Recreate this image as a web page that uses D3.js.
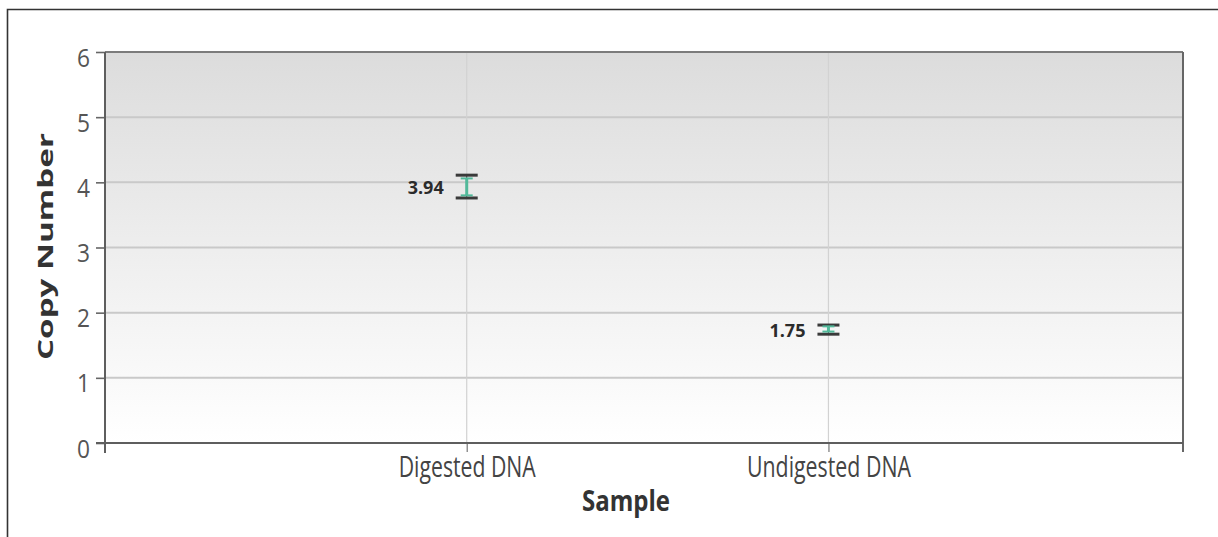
<!DOCTYPE html>
<html>
<head>
<meta charset="utf-8">
<script src="https://cdn.jsdelivr.net/npm/d3@7"></script>
<style>
  html, body { margin: 0; padding: 0; background: #fff; }
  svg { display: block; }
</style>
</head>
<body>
<svg id="chart" width="1218" height="537"></svg>
<script>
// Copy number per sample, with min/max range (dark caps) and confidence interval (teal)
const categories = ["Digested DNA", "Undigested DNA"];
const copyNumber = [3.94, 1.75];
const rangeLow  = [3.76, 1.67];
const rangeHigh = [4.11, 1.81];
const ciLow     = [3.80, 1.71];
const ciHigh    = [4.06, 1.79];
const yTicks = [0, 1, 2, 3, 4, 5, 6];
const xTitle = "Sample";
const yTitle = "Copy Number";

const svg = d3.select("#chart");
const W = 1218, H = 537;
const plot = { left: 105, right: 1183, top: 52, bottom: 443 };

const FONT = "'Open Sans', 'Noto Sans', 'DejaVu Sans', sans-serif";

const x = d3.scalePoint().domain(categories).range([plot.left, plot.right]).padding(0.99).align(0.505);
const y = d3.scaleLinear().domain([0, 6]).range([plot.bottom, plot.top]);

// outer frame
svg.append("path")
  .attr("d", `M7.5,${H} V9.5 H${W}`)
  .attr("fill", "none").attr("stroke", "#333").attr("stroke-width", 1.6);

// plot background gradient
const defs = svg.append("defs");
const grad = defs.append("linearGradient").attr("id", "bg")
  .attr("x1", 0).attr("y1", 0).attr("x2", 0).attr("y2", 1);
grad.append("stop").attr("offset", "0%").attr("stop-color", "#dcdcdc");
grad.append("stop").attr("offset", "45%").attr("stop-color", "#ececec");
grad.append("stop").attr("offset", "100%").attr("stop-color", "#ffffff");

svg.append("rect")
  .attr("x", plot.left).attr("y", plot.top)
  .attr("width", plot.right - plot.left).attr("height", plot.bottom - plot.top)
  .attr("fill", "url(#bg)");

// horizontal gridlines
svg.append("g").selectAll("line")
  .data(yTicks.filter(t => t > 0 && t < 6))
  .join("line")
  .attr("x1", plot.left).attr("x2", plot.right)
  .attr("y1", d => y(d)).attr("y2", d => y(d))
  .attr("stroke", "#c9c9c9").attr("stroke-width", 2);

// vertical gridlines at each sample
svg.append("g").selectAll("line")
  .data(categories)
  .join("line")
  .attr("x1", d => x(d)).attr("x2", d => x(d))
  .attr("y1", plot.top).attr("y2", plot.bottom)
  .attr("stroke", "#d2d2d2").attr("stroke-width", 1.2);

// plot border: top and right
svg.append("line")
  .attr("x1", plot.left).attr("x2", plot.right)
  .attr("y1", y(6)).attr("y2", y(6))
  .attr("stroke", "#7c7c7c").attr("stroke-width", 2.2);
svg.append("line")
  .attr("x1", plot.right).attr("x2", plot.right)
  .attr("y1", y(6)).attr("y2", y(0) + 9)
  .attr("stroke", "#666").attr("stroke-width", 2);

// y axis
const yAxis = svg.append("g")
  .attr("transform", `translate(${plot.left},0)`)
  .call(d3.axisLeft(y).tickValues(yTicks).tickSize(9).tickPadding(6).tickFormat(d3.format("d")));
yAxis.select(".domain").remove();
yAxis.selectAll(".tick line").attr("stroke", "#666").attr("stroke-width", 1.6);
yAxis.selectAll(".tick text")
  .attr("dy", "14px")
  .attr("fill", "#555")
  .style("font-family", FONT)
  .style("font-size", "26px")
  .attr("textLength", 13)
  .attr("lengthAdjust", "spacingAndGlyphs");
svg.append("line")
  .attr("x1", plot.left).attr("x2", plot.left)
  .attr("y1", y(6)).attr("y2", y(0) + 10)
  .attr("stroke", "#5e5e5e").attr("stroke-width", 2);

// x axis
const xLabelWidth = { "Digested DNA": 137, "Undigested DNA": 164 };
const xAxis = svg.append("g")
  .attr("transform", `translate(0,${plot.bottom})`)
  .call(d3.axisBottom(x).tickSize(9).tickSizeOuter(0));
xAxis.select(".domain").remove();
xAxis.selectAll(".tick line").attr("stroke", "#777").attr("stroke-width", 1.2);
xAxis.selectAll(".tick text")
  .attr("y", 34).attr("dy", null)
  .attr("fill", "#444")
  .style("font-family", FONT)
  .style("font-size", "29px")
  .attr("textLength", d => xLabelWidth[d])
  .attr("lengthAdjust", "spacingAndGlyphs");
svg.append("line")
  .attr("x1", plot.left - 9).attr("x2", plot.right)
  .attr("y1", y(0)).attr("y2", y(0))
  .attr("stroke", "#5e5e5e").attr("stroke-width", 2.2);

// axis titles
svg.append("text")
  .attr("x", 626).attr("y", 511)
  .attr("text-anchor", "middle")
  .attr("fill", "#333")
  .style("font-family", FONT).style("font-weight", 700).style("font-size", "29px")
  .attr("textLength", 88).attr("lengthAdjust", "spacingAndGlyphs")
  .text(xTitle);

svg.append("text")
  .attr("transform", `translate(53,${(133 + 360) / 2}) rotate(-90)`)
  .attr("text-anchor", "middle")
  .attr("fill", "#333")
  .style("font-family", FONT).style("font-weight", 700).style("font-size", "21px")
  .attr("textLength", 227).attr("lengthAdjust", "spacingAndGlyphs")
  .text(yTitle);

// error bars
const rows = categories.map((c, i) => ({
  c, v: copyNumber[i], lo: rangeLow[i], hi: rangeHigh[i], cl: ciLow[i], ch: ciHigh[i]
}));
const marks = svg.append("g").selectAll("g").data(rows).join("g");

// outer range: thin dark stem with dark caps
marks.append("line")
  .attr("x1", d => x(d.c)).attr("x2", d => x(d.c))
  .attr("y1", d => y(d.hi)).attr("y2", d => y(d.lo))
  .attr("stroke", "#444").attr("stroke-width", 1);
marks.selectAll(".cap").data(d => [[d.c, d.hi], [d.c, d.lo]]).join("line")
  .attr("class", "cap")
  .attr("x1", d => x(d[0]) - 11).attr("x2", d => x(d[0]) + 11)
  .attr("y1", d => y(d[1])).attr("y2", d => y(d[1]))
  .attr("stroke", "#3a3a3a").attr("stroke-width", 3);

// confidence interval in teal
marks.append("line")
  .attr("x1", d => x(d.c)).attr("x2", d => x(d.c))
  .attr("y1", d => y(d.ch)).attr("y2", d => y(d.cl))
  .attr("stroke", "#52b99a").attr("stroke-width", 3);
marks.selectAll(".ci").data(d => [[d.c, d.ch], [d.c, d.cl]]).join("line")
  .attr("class", "ci")
  .attr("x1", d => x(d[0]) - 6).attr("x2", d => x(d[0]) + 6)
  .attr("y1", d => y(d[1])).attr("y2", d => y(d[1]))
  .attr("stroke", "#52b99a").attr("stroke-width", 2);

// value labels
marks.append("text")
  .attr("x", d => x(d.c) - 23)
  .attr("y", d => y(d.v) + 8)
  .attr("text-anchor", "end")
  .attr("fill", "#2b2b2b")
  .style("font-family", FONT).style("font-weight", 700).style("font-size", "18px")
  .attr("textLength", 36).attr("lengthAdjust", "spacingAndGlyphs")
  .text(d => d3.format(".2f")(d.v));
</script>
</body>
</html>
